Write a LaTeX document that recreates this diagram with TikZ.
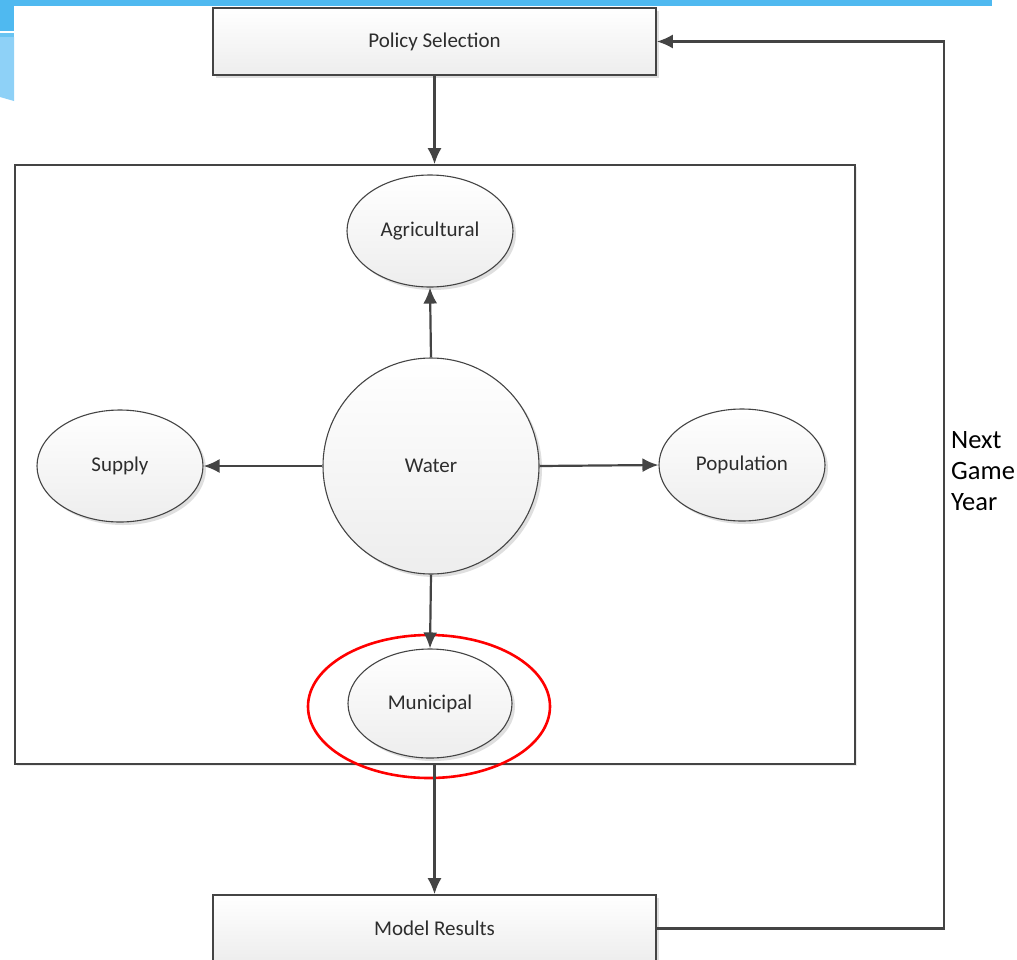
\documentclass[tikz,border=0pt]{standalone}
\usepackage{fontspec}
\setmainfont{Carlito}
\usepackage{tikz}
\usetikzlibrary{shapes.geometric,arrows.meta,shadows}

\definecolor{slideblue}{RGB}{79,185,240}
\definecolor{slidepale}{RGB}{142,209,247}
\definecolor{linegray}{RGB}{68,68,68}
\definecolor{textgray}{RGB}{45,45,45}

\begin{document}
\begin{tikzpicture}[x=1pt,y=-1pt,
    every node/.style={text=textgray,font=\fontsize{21}{25}\selectfont},
    boxshade/.style={top color=white,bottom color=gray!14,draw=linegray,line width=1.6pt,
        drop shadow={shadow xshift=3pt,shadow yshift=-3pt,fill=gray!25,opacity=1}},
    stepbox/.style={boxshade,rectangle,minimum width=443,minimum height=67,inner sep=0pt},
    sector/.style={boxshade,ellipse,line width=1.1pt,minimum width=166,minimum height=112,inner sep=0pt},
    flow/.style={draw=linegray,line width=2.2pt,-{Latex[length=16pt,width=14pt]}}]
    \useasboundingbox (0,0) rectangle (1017,959);
    \clip (0,0) rectangle (1017,959);

    % slide decoration
    \fill[slideblue] (0,0) rectangle (992,6);
    \fill[slideblue] (0,0) rectangle (14,31);
    \fill[slideblue!85] (0,33) rectangle (14,37);
    \fill[slidepale] (0,37) -- (14,37) -- (14,101) -- (0,97) -- cycle;

    % game loop
    \node[stepbox] (policy) at (434.5,41.5) {Policy Selection};
    \node[draw=linegray,line width=1.6pt,minimum width=840,minimum height=599,inner sep=0pt,
        drop shadow={shadow xshift=2pt,shadow yshift=-2pt,fill=gray!15,opacity=1},fill=white]
        (model) at (435,464.5) {};
    \node[stepbox] (results) at (434.5,928.5) {Model Results};

    \node[boxshade,circle,line width=1.1pt,minimum size=216,inner sep=0pt] (water) at (431,466) {Water};
    \node[sector] (agri) at (430,231) {Agricultural};
    \node[sector] (supply) at (120,466) {Supply};
    \node[sector] (pop) at (742,465) {Population};
    \node[sector,minimum width=164,minimum height=109] (muni) at (430,703.5) {Municipal};
    \node[draw=red,line width=2.6pt,ellipse,minimum width=242,minimum height=143,inner sep=0pt]
        (hilite) at (429,706.5) {};

    \draw[flow] (policy.south) -- (policy.south |- model.north);
    \draw[flow] (water.north) -- (agri.south);
    \draw[flow] (water.west) -- (supply.east);
    \draw[flow] (water.east) -- (pop.west);
    \draw[flow] (water.south) -- (muni.north);
    \draw[flow] (results.north |- model.south) -- (results.north);

    \coordinate (loop) at (944,480);
    \draw[flow] (results.east) -- (results.east -| loop) -- (policy.east -| loop) -- (policy.east);
    \node[anchor=west,align=left,inner sep=0pt,text=black,
        font=\fontsize{26.5}{31}\selectfont] (nextyear) at (951,471) {Next\\Game\\Year};
\end{tikzpicture}
\end{document}
